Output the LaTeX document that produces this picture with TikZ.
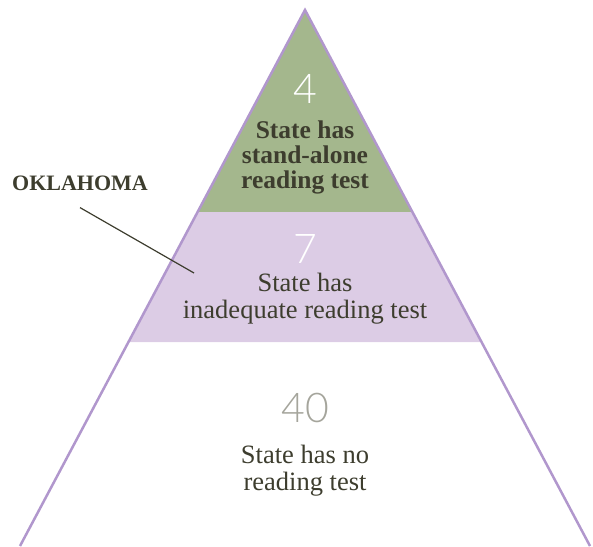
\documentclass[tikz,border=0pt]{standalone}
\usepackage{fontspec}
\setmainfont{Liberation Serif}
\newfontfamily\countfont{Lato Light}
\usepackage{xcolor}
\usetikzlibrary{calc, positioning}
\definecolor{pyrGreen}{HTML}{A4B78D}
\definecolor{pyrPurple}{HTML}{DCCCE5}
\definecolor{pyrEdge}{HTML}{B197CD}
\definecolor{pyrText}{HTML}{3D3D2E}
\definecolor{pyrGray}{HTML}{A5A59C}
\tikzset{
  pyr-edge/.style={draw=pyrEdge, line width=2.5pt},
  pyr-count/.style={
    anchor=base, inner sep=0pt,
    font=\countfont\fontsize{41}{41}\selectfont
  },
  pyr-label/.style={
    anchor=base, inner sep=0pt, align=center, text=pyrText,
    font=\fontsize{26.5}{27}\selectfont
  },
  pyr-callout/.style={
    inner sep=0pt, text=pyrText,
    font=\bfseries\fontsize{22}{24}\selectfont
  },
  pyr-leader/.style={draw=pyrText, line width=1.2pt},
}

\begin{document}
\begin{tikzpicture}[x=1pt, y=-1pt]
  \useasboundingbox (0,0) rectangle (593,546);

  % corners of the pyramid
  \coordinate (apex) at (305,10);
  \coordinate (bl)   at (20,546);
  \coordinate (br)   at (590,546);
  \coordinate (gl) at ($(apex)!0.3769!(bl)$);
  \coordinate (gr) at ($(apex)!0.3769!(br)$);
  \coordinate (pl) at ($(apex)!0.6194!(bl)$);
  \coordinate (pr) at ($(apex)!0.6194!(br)$);

  % bands
  \fill[pyrGreen]  (apex) -- (gr) -- (gl) -- cycle;
  \fill[pyrPurple] (gl) -- (gr) -- (pr) -- (pl) -- cycle;
  \draw[pyr-edge] (bl) -- (apex) -- (br);

  % counts and labels (base = last line)
  \node[pyr-count, text=white] (n-top) at (305,103) {4};
  \node[pyr-label, font=\bfseries\fontsize{25.5}{25}\selectfont] (l-top) at (305,188)
    {State has\\stand-alone\\reading test};
  \node[pyr-count, text=white] (n-mid) at (305,263) {7};
  \node[pyr-label] (l-mid) at (305,318) {State has\\inadequate reading test};
  \node[pyr-count, text=pyrGray] (n-low) at (305,422) {40};
  \node[pyr-label] (l-low) at (305,490) {State has no\\reading test};

  % callout
  \node[pyr-callout] (ok) at (80,183) {OKLAHOMA};
  \coordinate[below=17pt of ok] (ok-tail);
  \coordinate (ok-tip) at (194,273);
  \draw[pyr-leader] (ok-tail) -- (ok-tip);
\end{tikzpicture}
\end{document}
